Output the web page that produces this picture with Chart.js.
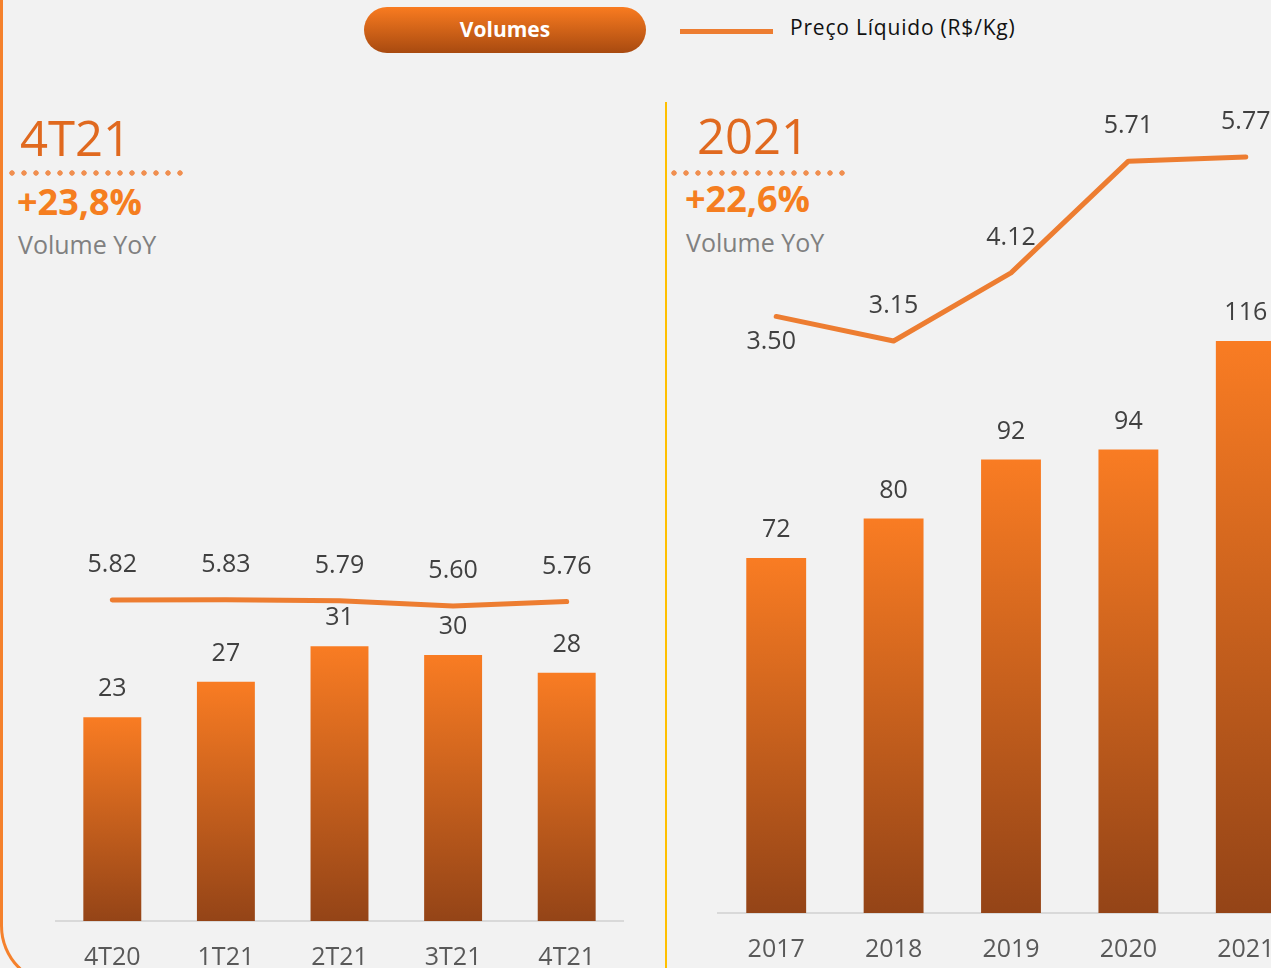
<!DOCTYPE html>
<html>
<head>
<meta charset="utf-8">
<script src="https://cdn.jsdelivr.net/npm/chart.js@4"></script>
<style>
  html, body { margin: 0; padding: 0; }
  body {
    width: 1271px; height: 968px; overflow: hidden; position: relative;
    background: #f2f2f2; font-family: "Open Sans", "Noto Sans", sans-serif;
  }
  .abs { position: absolute; white-space: nowrap; }
  .frame {
    left: 0; top: -100px; width: 700px; height: 1086px; box-sizing: border-box;
    border-left: 3px solid #f5812c; border-bottom: 3px solid #f5812c;
    border-bottom-left-radius: 60px;
  }
  .divider { left: 665px; top: 102px; width: 2px; height: 870px; background: #ffc000; }
  .pill {
    left: 364px; top: 7px; width: 282px; height: 46px; border-radius: 23px;
    background: linear-gradient(#f97b20, #a84a10);
    color: #fff; font-weight: 700; font-size: 21px; line-height: 44px; text-align: center;
  }
  .legLine { left: 680px; top: 29px; width: 93px; height: 5px; background: #ed7d31; }
  .legText { left: 790px; top: 13px; font-size: 21px; line-height: 28px; letter-spacing: 0.8px; color: #111; }
  .period { font-size: 49px; line-height: 49px; color: #e0691f; }
  .dots {
    height: 6px; background: radial-gradient(circle, #f08f50 2.4px, transparent 3px) 0 0 / 12px 6px repeat-x;
  }
  .pct { font-size: 36px; line-height: 36px; font-weight: 700; color: #f57e20; }
  .yoy { font-size: 25px; line-height: 25px; color: #808080; }
  canvas { position: absolute; }
</style>
</head>
<body>
<div class="abs frame"></div>
<div class="abs divider"></div>

<div class="abs pill">Volumes</div>
<div class="abs legLine"></div>
<div class="abs legText">Preço Líquido (R$/Kg)</div>

<div class="abs period" style="left:20px; top:113px;">4T21</div>
<div class="abs dots" style="left:6px; top:170px; width:178px;"></div>
<div class="abs pct" style="left:17px; top:184px;">+23,8%</div>
<div class="abs yoy" style="left:18px; top:232px;">Volume YoY</div>

<div class="abs period" style="left:697px; top:111px;">2021</div>
<div class="abs dots" style="left:668px; top:170px; width:178px;"></div>
<div class="abs pct" style="left:685px; top:181px;">+22,6%</div>
<div class="abs yoy" style="left:686px; top:230px;">Volume YoY</div>

<canvas id="quarterChart" width="573" height="515" style="left:53px; top:480px;"></canvas>
<canvas id="yearChart" width="592" height="907" style="left:715px; top:80px;"></canvas>

<script>
// Quarterly (left)
const quarters = ["4T20", "1T21", "2T21", "3T21", "4T21"];
const quarterVolumes = [23, 27, 31, 30, 28];
const quarterPrices = [5.82, 5.83, 5.79, 5.60, 5.76];

// Annual (right)
const years = ["2017", "2018", "2019", "2020", "2021"];
const yearVolumes = [72, 80, 92, 94, 116];
const yearPrices = [3.50, 3.15, 4.12, 5.71, 5.77];

const LINE_COLOR = "#ed7d31";
const LABEL_FONT = '25px "Open Sans"';

// each bar gets its own top-to-bottom gradient
function barGradient(context) {
  const chart = context.chart;
  const y = chart.scales.y;
  if (!y || !chart.chartArea || context.type !== "data") return "#f57a22";
  const top = y.getPixelForValue(context.raw);
  const bottom = y.getPixelForValue(0);
  if (!isFinite(top) || !isFinite(bottom) || top === bottom) return "#f57a22";
  const g = chart.ctx.createLinearGradient(0, top, 0, bottom);
  g.addColorStop(0, "#f97c23");
  g.addColorStop(1, "#944417");
  return g;
}

// value labels above bars / points
const valueLabels = {
  id: "valueLabels",
  afterDatasetsDraw(chart) {
    const ctx = chart.ctx;
    ctx.save();
    ctx.font = LABEL_FONT;
    ctx.fillStyle = "#404040";
    ctx.textAlign = "center";
    ctx.textBaseline = "middle";
    chart.data.datasets.forEach((ds, i) => {
      const meta = chart.getDatasetMeta(i);
      meta.data.forEach((el, j) => {
        const below = (ds.labelsBelow || []).includes(j);
        const dy = below ? ds.gapBelow : -ds.gapAbove;
        const dx = below ? -5 : 0;
        ctx.fillText(ds.fmt(ds.data[j]), el.x + dx, el.y + dy);
      });
    });
    ctx.restore();
  },
};

function makeChart(id, labels, volumes, prices, yMax, y1Min, y1Max, labelsBelow) {
  const chart = new Chart(document.getElementById(id), {
    type: "bar",
    data: {
      labels: labels,
      datasets: [
        {
          type: "line",
          data: prices,
          yAxisID: "y1",
          borderColor: LINE_COLOR,
          borderWidth: 5,
          borderCapStyle: "round",
          borderJoinStyle: "round",
          pointRadius: 0,
          tension: 0,
          fmt: (v) => v.toFixed(2),
          gapAbove: 35,
          gapBelow: 25,
          labelsBelow: labelsBelow,
        },
        {
          data: volumes,
          yAxisID: "y",
          backgroundColor: barGradient,
          categoryPercentage: 1,
          barPercentage: 0.51,
          fmt: (v) => String(v),
          gapAbove: 28,
        },
      ],
    },
    options: {
      responsive: false,
      animation: false,
      layout: { padding: { top: 20, left: 0, right: 0, bottom: 0 } },
      plugins: { legend: { display: false }, tooltip: { enabled: false } },
      scales: {
        x: {
          grid: { display: false, drawTicks: false },
          border: { display: true, color: "#d9d9d9", width: 2 },
          ticks: {
            color: "#595959",
            font: { family: "Open Sans", size: 25 },
            padding: 22,
          },
        },
        y: { display: false, min: 0, max: yMax },
        y1: { display: false, min: y1Min, max: y1Max },
      },
    },
    plugins: [valueLabels],
  });
  // second pass so the gradients see finished scales
  chart.update("none");
  return chart;
}

// scales tuned so bars and the price line sit where the reference puts them
makeChart("quarterChart", quarters, quarterVolumes, quarterPrices, 47.5, -5.94, 9.48, []);
makeChart("yearChart", years, yearVolumes, yearPrices, 164.9, -4.99, 6.58, [0]);
</script>
</body>
</html>
